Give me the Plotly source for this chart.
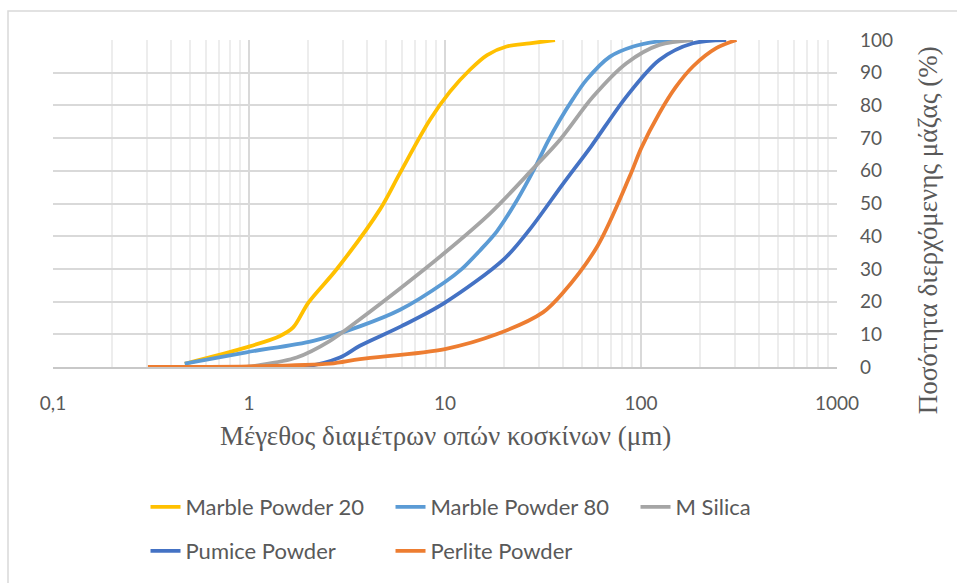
import plotly.graph_objects as go

# Particle size distributions: sieve opening (μm) vs cumulative passing (%)
mp20_x = [0.47, 0.97, 1.44, 1.68, 2.01, 2.8, 4.66, 5.89, 8.38, 10.6, 13.4, 16.4, 20.6, 27, 36.4]
mp20_y = [1, 6, 9.5, 12.1, 19.7, 29.9, 48.2, 59.3, 75.6, 84.2, 90.9, 95.4, 98, 99, 100]

mp80_x = [0.47, 0.97, 2.13, 3.7, 5.9, 10, 12.2, 15, 18.4, 23.3, 28.5, 33.5, 38.6, 45, 52.7, 69.5, 91.3, 120, 151]
mp80_y = [1, 4.5, 8, 12.5, 17.5, 26, 30, 35.5, 41.5, 51, 60.5, 69, 75.6, 82, 87.8, 94.9, 98, 99.5, 100]

silica_x = [0.97, 1.09, 1.75, 2.59, 3.68, 5.9, 10, 17, 28, 38.6, 57, 84.3, 124, 184]
silica_y = [0, 0.4, 2.9, 8, 14.6, 24, 35, 47, 60.5, 69.5, 82.7, 92.9, 98.5, 100]

pumice_x = [1.0, 2.0, 2.91, 3.68, 6, 10, 20, 27, 40, 55.7, 84.3, 124, 184, 272]
pumice_y = [0, 0.3, 2.9, 6.5, 12.5, 19.7, 33, 42, 56, 67.5, 82.7, 93.9, 99, 100]

perlite_x = [0.305, 1, 2.59, 3.68, 10, 18.3, 31.6, 40, 60, 87.6, 100.4, 124, 150, 184, 242, 307]
perlite_y = [0, 0.2, 1, 2.4, 5.5, 10, 16.7, 22.7, 37, 58.3, 67, 77.6, 85.5, 91.9, 97.5, 100]

series = [
    ("Marble Powder 20", mp20_x, mp20_y, "#FFC000", "legend"),
    ("Marble Powder 80", mp80_x, mp80_y, "#5B9BD5", "legend"),
    ("M Silica", silica_x, silica_y, "#A5A5A5", "legend"),
    ("Pumice Powder", pumice_x, pumice_y, "#4472C4", "legend2"),
    ("Perlite Powder", perlite_x, perlite_y, "#ED7D31", "legend2"),
]

x_ticks = [0.1, 1, 10, 100, 1000]
x_tick_text = ["0,1", "1", "10", "100", "1000"]
minor_ticks = [m * 10 ** e for e in (-1, 0, 1, 2) for m in range(2, 10)]

fig = go.Figure()
for name, xs, ys, color, leg in series:
    fig.add_trace(go.Scatter(
        x=xs, y=ys, name=name, mode="lines",
        line=dict(color=color, width=3.8, shape="spline", smoothing=0.9),
        legend=leg,
    ))

text_color = "#595959"
sans = "Lato, Calibri, sans-serif"
serif = "Liberation Serif, Times New Roman, serif"

fig.update_layout(
    width=957, height=583,
    margin=dict(l=53, r=120, t=40, b=215),
    paper_bgcolor="white", plot_bgcolor="white",
    separators=", ",
    font=dict(family=sans, color=text_color, size=19),
    xaxis=dict(
        type="log", range=[-1, 3],
        tickmode="array", tickvals=x_ticks, ticktext=x_tick_text,
        showgrid=True, gridcolor="#d9d9d9", gridwidth=2,
        minor=dict(tickmode="array", tickvals=minor_ticks, showgrid=True,
                   gridcolor="#ededed", gridwidth=2),
        showline=True, linecolor="#c8c8c8", linewidth=2,
        ticks="", ticklabelstandoff=18,
        tickfont=dict(size=19, color=text_color),
        zeroline=False,
    ),
    yaxis=dict(
        side="right", range=[0, 100], dtick=10,
        showgrid=True, gridcolor="#d9d9d9", gridwidth=2,
        ticks="", ticklabelstandoff=22,
        tickfont=dict(size=19, color=text_color),
        zeroline=False, showline=False,
    ),
    legend=dict(
        orientation="h", x=0.118, y=-0.424, xanchor="left", yanchor="middle",
        font=dict(size=22, color=text_color, family=sans),
        entrywidth=200, itemwidth=30, bgcolor="rgba(0,0,0,0)",
    ),
    legend2=dict(
        orientation="h", x=0.118, y=-0.558, xanchor="left", yanchor="middle",
        font=dict(size=22, color=text_color, family=sans),
        entrywidth=200, itemwidth=30, bgcolor="rgba(0,0,0,0)",
    ),
    showlegend=True,
)

# Axis titles
fig.add_annotation(
    text="Μέγεθος διαμέτρων οπών κοσκίνων (μm)",
    xref="paper", yref="paper", x=0.5, y=-0.21,
    showarrow=False, xanchor="center", yanchor="middle",
    font=dict(family=serif, size=27, color=text_color),
)
fig.add_annotation(
    text="Ποσότητα διερχόμενης μάζας (%)",
    xref="paper", yref="paper", x=1.116, y=0.418,
    showarrow=False, xanchor="center", yanchor="middle", textangle=-90,
    font=dict(family=serif, size=27, color=text_color),
)

# Outer chart frame
fig.add_shape(
    type="rect", xref="paper", yref="paper",
    x0=-0.0574, x1=1.17, y0=-0.72, y1=1.0884,
    line=dict(color="#d9d9d9", width=1.5), fillcolor="rgba(0,0,0,0)", layer="below",
)

fig.write_html("out.html")
